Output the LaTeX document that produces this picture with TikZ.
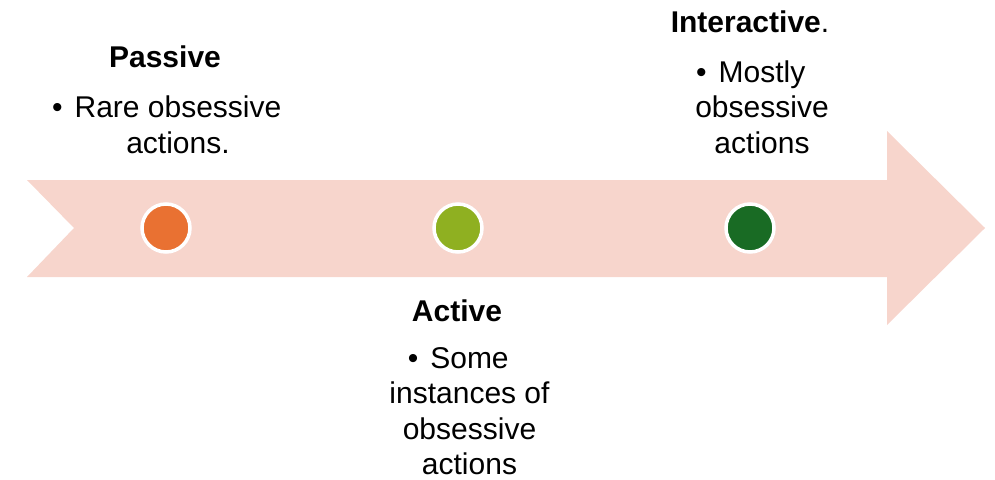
\documentclass[tikz,border=0pt]{standalone}
\usepackage{fontspec}
\setmainfont{Liberation Sans}
\definecolor{arrowfill}{HTML}{F7D5CC}
\definecolor{corange}{HTML}{E97132}
\definecolor{cgreen}{HTML}{8FB021}
\definecolor{cdark}{HTML}{196B24}
\tikzset{
  dot/.style={circle, draw=white, line width=3.5pt, minimum size=48pt, inner sep=0pt},
  title/.style={inner sep=0pt, font=\fontsize{30}{36}\selectfont\bfseries},
  body/.style={inner sep=0pt, align=center, font=\fontsize{30}{35.5}\selectfont}
}
\newcommand{\bul}{\llap{\textbullet\hspace{0.4em}}}
\begin{document}
\begin{tikzpicture}[x=1pt,y=-1pt]
\useasboundingbox (0,0) rectangle (995,479);
\fill[arrowfill] (27,180) -- (887,180) -- (887,131) -- (985,228) -- (887,325) -- (887,277) -- (27,277) -- (74,228) -- cycle;
\node[dot, fill=corange] (d1) at (166,228) {};
\node[dot, fill=cgreen] (d2) at (458,228) {};
\node[dot, fill=cdark] (d3) at (750,228) {};
\node[title] (t1) at (165,57) {Passive};
\node[body] (b1) at (178,125) {\bul Rare obsessive\\actions.};
\node[title] (t3) at (750,22) {Interactive\mdseries.};
\node[body] (b3) at (762,107) {\bul Mostly\\obsessive\\actions};
\node[title] (t2) at (457,311) {Active};
\node[body] (b2) at (469.5,411) {\bul Some\\instances of\\obsessive\\actions};
\end{tikzpicture}
\end{document}
